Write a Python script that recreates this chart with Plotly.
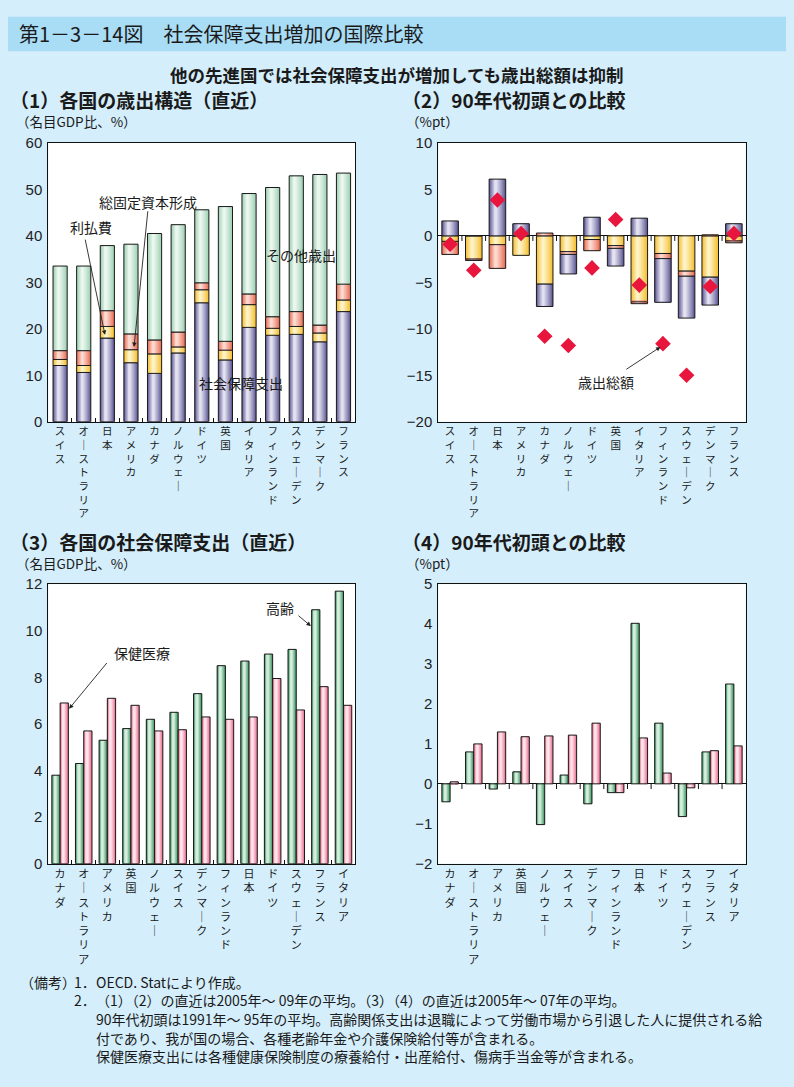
import plotly.graph_objects as go

# ---------------- DATA ----------------
# Panels (1)(2): country order
countries_12 = ["スイス", "オーストラリア", "日本", "アメリカ", "カナダ", "ノルウェー", "ドイツ",
                "英国", "イタリア", "フィンランド", "スウェーデン", "デンマーク", "フランス"]
# (1) expenditure structure, % of nominal GDP
p1_social = [12.1, 10.6, 18.0, 12.7, 10.4, 14.8, 25.6, 13.3, 20.3, 18.6, 18.8, 17.2, 23.7]
p1_capital = [1.3, 1.5, 2.5, 2.8, 4.2, 1.3, 2.8, 2.1, 4.9, 1.5, 1.7, 1.9, 2.5]
p1_interest = [1.9, 3.2, 3.4, 3.4, 3.0, 3.2, 1.5, 1.9, 2.3, 2.5, 3.2, 1.7, 3.4]
p1_other = [18.2, 18.2, 14.0, 19.3, 22.9, 23.1, 15.7, 29.0, 21.6, 27.8, 29.2, 32.4, 23.9]
# (2) change vs early 90s, %pt
p2_social = [1.6, 0.0, 6.1, 1.3, -2.4, -2.1, 2.0, -1.9, 1.9, -4.7, -4.5, -3.0, 1.3]
p2_capital = [-0.6, -2.5, -0.95, -2.1, -5.2, -1.7, -0.4, -1.05, -7.1, -1.9, -3.8, -4.45, -0.55]
p2_interest = [-1.4, -0.15, -2.55, 0.0, 0.3, -0.3, -1.2, -0.3, -0.2, -0.55, -0.55, 0.1, -0.2]
p2_total = [-0.9, -3.7, 3.85, 0.25, -10.8, -11.8, -3.45, 1.75, -5.3, -11.6, -15.0, -5.45, 0.25]

# Panels (3)(4): country order
countries_13 = ["カナダ", "オーストラリア", "アメリカ", "英国", "ノルウェー", "スイス", "デンマーク",
                "フィンランド", "日本", "ドイツ", "スウェーデン", "フランス", "イタリア"]
p3_aged = [3.8, 4.3, 5.3, 5.8, 6.2, 6.5, 7.3, 8.5, 8.7, 9.0, 9.2, 10.9, 11.7]
p3_health = [6.9, 5.7, 7.1, 6.8, 5.7, 5.75, 6.3, 6.2, 6.3, 7.95, 6.6, 7.6, 6.8]
p4_aged = [-0.45, 0.8, -0.13, 0.3, -1.02, 0.22, -0.5, -0.22, 4.02, 1.52, -0.82, 0.8, 2.5]
p4_health = [0.05, 1.0, 1.3, 1.18, 1.2, 1.22, 1.52, -0.22, 1.15, 0.27, -0.1, 0.83, 0.95]

W, H = 794, 1087
JP = "Noto Sans CJK JP"
NUM = "Liberation Sans, Arial, sans-serif"
BG = "#d4eefb"

PURPLE = ("#5a5592", "#f2f1fb")
YELLOW = ("#f4bd2c", "#fff9d8")
SALMON = ("#e8684f", "#fde6de")
LGREEN = ("#9ccfb1", "#f3fbf6")
GREEN = ("#34935a", "#e8f8ee")
PINK = ("#e9688a", "#fff2f6")


def hex2rgb(h):
    h = h.lstrip("#")
    return tuple(int(h[i:i + 2], 16) for i in (0, 2, 4))


def mix(c1, c2, t):
    a, b = hex2rgb(c1), hex2rgb(c2)
    return "rgb(%d,%d,%d)" % tuple(round(a[i] + (b[i] - a[i]) * t) for i in range(3))


def vert(s):
    return "<br>".join("｜" if ch == "ー" else ch for ch in s)


def stack_bases(series_list):
    n = len(series_list[0])
    pos = [0.0] * n
    neg = [0.0] * n
    out = []
    for s in series_list:
        b = []
        for i, v in enumerate(s):
            if v >= 0:
                b.append(pos[i]); pos[i] += v
            else:
                b.append(neg[i]); neg[i] += v
        out.append(b)
    return out


fig = go.Figure()


def cyl_bars(x, y, base, colors, width, left_off, xa, ya, n=9, h=0.4):
    dark, light = colors
    for k in range(n):
        t = k / n
        left = left_off + h * width * t
        right = left_off + width - (1 - h) * width * t
        fig.add_trace(go.Bar(x=x, y=y, base=base, width=right - left, offset=left,
                             marker=dict(color=mix(dark, light, t ** 0.85), line=dict(width=0)),
                             xaxis=xa, yaxis=ya, hoverinfo="skip", showlegend=False))
    fig.add_trace(go.Bar(x=x, y=y, base=base, width=width, offset=left_off,
                         marker=dict(color="rgba(0,0,0,0)", line=dict(color="#1a1a1a", width=1)),
                         xaxis=xa, yaxis=ya, hoverinfo="skip", showlegend=False))


idx12 = list(range(len(countries_12)))
idx13 = list(range(len(countries_13)))

# Panel 1 stacked
b1 = stack_bases([p1_social, p1_capital, p1_interest, p1_other])
for s, b, c in zip([p1_social, p1_capital, p1_interest, p1_other], b1, [PURPLE, YELLOW, SALMON, LGREEN]):
    cyl_bars(idx12, s, b, c, 0.6, -0.3, "x", "y")

# Panel 2 relative stacked
b2 = stack_bases([p2_capital, p2_interest, p2_social])
for s, b, c in zip([p2_capital, p2_interest, p2_social], b2, [YELLOW, SALMON, PURPLE]):
    cyl_bars(idx12, s, b, c, 0.7, -0.35, "x2", "y2")
fig.add_trace(go.Scatter(x=idx12, y=p2_total, mode="markers", xaxis="x2", yaxis="y2",
                         marker=dict(symbol="diamond", size=12, color="#e8163c", line=dict(width=0)),
                         hoverinfo="skip", showlegend=False))

# Panel 3 grouped
zeros = [0] * len(countries_13)
cyl_bars(idx13, p3_aged, zeros, GREEN, 0.35, -0.35, "x3", "y3")
cyl_bars(idx13, p3_health, zeros, PINK, 0.35, 0.0, "x3", "y3")
# Panel 4 grouped
cyl_bars(idx13, p4_aged, zeros, GREEN, 0.35, -0.35, "x4", "y4")
cyl_bars(idx13, p4_health, zeros, PINK, 0.35, 0.0, "x4", "y4")


def px_x(p):
    return p / W


def px_y(p):
    return 1 - p / H


dom_l = [px_x(48.3), px_x(355.3)]
dom_r = [px_x(438.3), px_x(745.7)]
dom_t = [px_y(419.3), px_y(136)]
dom_b = [px_y(868.3), px_y(584.3)]

common_x = dict(showline=True, mirror=True, linecolor="#111", linewidth=1, ticks="",
                range=[-0.5, 12.5], showgrid=False, zeroline=False, fixedrange=True)
common_y = dict(showline=True, mirror=True, linecolor="#111", linewidth=1, ticks="",
                showgrid=False, tickfont=dict(family=NUM, size=15, color="#222"),
                ticklabelstandoff=2, fixedrange=True)
minor_b = dict(tickvals=[i + 0.5 for i in idx12[:-1]], ticks="inside", ticklen=4,
               tickcolor="#111", tickwidth=1, showgrid=False)
font_top = dict(family=JP, size=10.5, color="#1a1a1a")
font_bot = dict(family=JP, size=11, color="#1a1a1a")

fig.update_layout(
    width=W, height=H, margin=dict(l=0, r=0, t=0, b=0),
    paper_bgcolor=BG, plot_bgcolor="#ffffff", barmode="overlay", showlegend=False,
    xaxis=dict(common_x, domain=dom_l, anchor="y", tickvals=idx12, tickfont=font_top,
               ticktext=[vert(c) for c in countries_12], minor=minor_b),
    yaxis=dict(common_y, domain=dom_t, anchor="x", range=[0, 60], dtick=10, zeroline=False),
    xaxis2=dict(common_x, domain=dom_r, anchor="y2", tickvals=idx12, tickfont=font_top,
                ticktext=[vert(c) for c in countries_12]),
    yaxis2=dict(common_y, domain=dom_t, anchor="x2", range=[-20, 10], dtick=5,
                zeroline=True, zerolinecolor="#111", zerolinewidth=1),
    xaxis3=dict(common_x, domain=dom_l, anchor="y3", tickvals=idx13, tickfont=font_bot,
                ticktext=[vert(c) for c in countries_13], minor=minor_b),
    yaxis3=dict(common_y, domain=dom_b, anchor="x3", range=[0, 12], dtick=2, zeroline=False),
    xaxis4=dict(common_x, domain=dom_r, anchor="y4", tickvals=idx13, tickfont=font_bot,
                ticktext=[vert(c) for c in countries_13]),
    yaxis4=dict(common_y, domain=dom_b, anchor="x4", range=[-2, 5], dtick=1,
                zeroline=True, zerolinecolor="#111", zerolinewidth=1),
)

shapes = [dict(type="rect", xref="paper", yref="paper", x0=px_x(8), x1=px_x(786),
               y0=px_y(43), y1=px_y(8), fillcolor="#a9dcf5", line=dict(width=0), layer="below")]
for i in idx12[:-1]:
    shapes.append(dict(type="line", xref="x2", yref="y2", x0=i + 0.5, x1=i + 0.5, y0=0, y1=-0.55,
                       line=dict(color="#111", width=1)))
for i in idx13[:-1]:
    shapes.append(dict(type="line", xref="x4", yref="y4", x0=i + 0.5, x1=i + 0.5, y0=0, y1=-0.13,
                       line=dict(color="#111", width=1)))
fig.update_layout(shapes=shapes)

ann = []


def txt(x, y, s, size, xanchor="left", bold=False, color="#1a1a1a", family=JP):
    ann.append(dict(xref="paper", yref="paper", x=px_x(x), y=px_y(y), text=("<b>%s</b>" % s) if bold else s,
                    showarrow=False, xanchor=xanchor, yanchor="middle",
                    font=dict(family=family, size=size, color=color)))


txt(17, 25, "第1－3－14図　社会保障支出増加の国際比較", 20)
txt(397, 67, "他の先進国では社会保障支出が増加しても歳出総額は抑制", 17.5, xanchor="center", bold=True)
txt(8, 92, "（1）各国の歳出構造（直近）", 19, bold=True)
txt(400, 92, "（2）90年代初頭との比較", 19, bold=True)
txt(8, 541, "（3）各国の社会保障支出（直近）", 19, bold=True)
txt(400, 541, "（4）90年代初頭との比較", 19, bold=True)
txt(14, 114, "（名目GDP比、%）", 13.5)
txt(404, 114, "（%pt）", 13.5)
txt(14, 563, "（名目GDP比、%）", 13.5)
txt(404, 563, "（%pt）", 13.5)

# Notes
NS = 14
txt(18, 988, "（備考）", NS)
txt(72, 988, "1．", NS)
txt(94, 988, "OECD. Statにより作成。", NS)
txt(72, 1007, "2．", NS)
txt(94, 1007, "（1）（2）の直近は2005年～ 09年の平均。（3）（4）の直近は2005年～ 07年の平均。", NS)
txt(94, 1026, "90年代初頭は1991年～ 95年の平均。高齢関係支出は退職によって労働市場から引退した人に提供される給", NS)
txt(94, 1045, "付であり、我が国の場合、各種老齢年金や介護保険給付等が含まれる。", NS)
txt(94, 1064, "保健医療支出には各種健康保険制度の療養給付・出産給付、傷病手当金等が含まれる。", NS)


def dtext(xa, ya, x, y, s):
    ann.append(dict(xref=xa, yref=ya, x=x, y=y, text=s, showarrow=False, xanchor="center",
                    yanchor="middle", font=dict(family=JP, size=14, color="#1a1a1a")))


def darrow(xa, ya, x0, y0, x1, y1):
    ann.append(dict(xref=xa, yref=ya, axref=xa, ayref=ya, x=x1, y=y1, ax=x0, ay=y0, text="",
                    showarrow=True, arrowhead=2, arrowsize=1, arrowwidth=0.9, arrowcolor="#222"))


dtext("x", "y", 3.72, 47.3, "総固定資本形成")
darrow("x", "y", 3.72, 45.6, 3.13, 16.1)
dtext("x", "y", 1.31, 41.8, "利払費")
darrow("x", "y", 1.05, 39.5, 1.9, 18.7)
dtext("x", "y", 10.19, 35.9, "その他歳出")
dtext("x", "y", 7.66, 8.3, "社会保障支出")
dtext("x2", "y2", 6.59, -15.73, "歳出総額")
darrow("x2", "y2", 7.39, -14.46, 8.9, -11.95)
dtext("x3", "y3", 9.3, 10.96, "高齢")
darrow("x3", "y3", 10.03, 10.7, 10.62, 10.2)
dtext("x3", "y3", 3.47, 9.06, "保健医療")
darrow("x3", "y3", 2.03, 8.68, 0.38, 6.65)

fig.update_layout(annotations=ann)
fig.write_html("out.html", config={"displayModeBar": False},
               post_script="document.body.style.margin='0';document.body.style.background='%s';" % BG)
